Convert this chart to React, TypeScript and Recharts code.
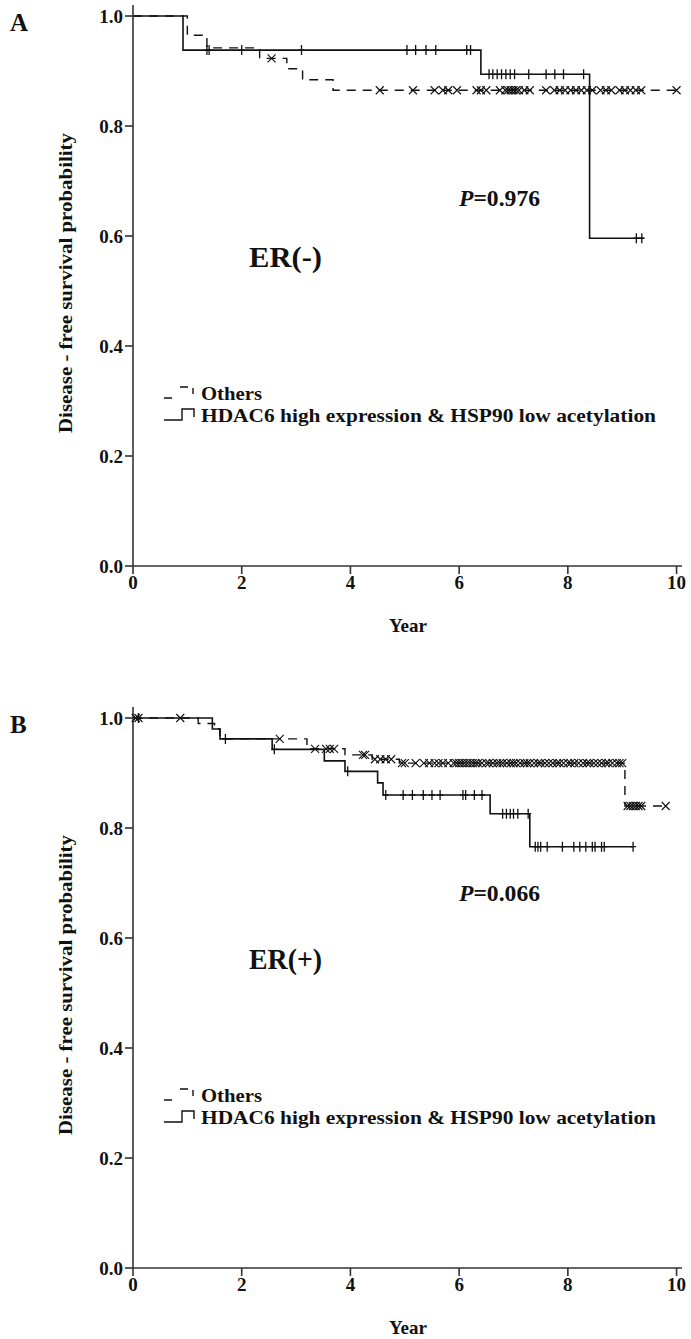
import React from 'react';
import { ComposedChart, Line, Scatter, XAxis, YAxis } from 'recharts';

const FONT = '"Liberation Serif", "Times New Roman", serif';
const INK = '#111';

// Panel A – ER(-): step curves (time in years, survival probability)
const A_OTHERS_TIME = [0, 1.0, 1.36, 2.33, 2.83, 3.12, 3.68, 10.0];
const A_OTHERS_SURV = [1.0, 0.965, 0.942, 0.923, 0.904, 0.884, 0.865, 0.865];
const A_HIGH_TIME = [0, 0.92, 6.4, 8.4, 9.4];
const A_HIGH_SURV = [1.0, 0.938, 0.894, 0.596, 0.596];

// Panel A – censored cases (times)
const A_OTHERS_CENSOR = [
  2.55, 4.54, 5.15, 5.55, 5.7, 5.8, 5.96, 6.32, 6.4, 6.5, 6.75, 6.85, 6.9, 6.95, 7.0,
  7.05, 7.1, 7.2, 7.3, 7.6, 7.75, 7.85, 7.95, 8.05, 8.15, 8.25, 8.35, 8.45, 8.6, 8.7,
  8.8, 8.95, 9.05, 9.15, 9.25, 9.35, 10.0,
];
const A_HIGH_CENSOR = [
  1.36, 1.4, 2.0, 3.1, 5.04, 5.2, 5.39, 5.57, 6.14, 6.21, 6.55, 6.62, 6.7, 6.78, 6.86,
  6.94, 7.02, 7.28, 7.6, 7.76, 7.92, 8.29, 9.26, 9.36,
];

// Panel B – ER(+)
const B_OTHERS_TIME = [0, 1.2, 1.5, 1.6, 3.2, 3.9, 4.4, 4.9, 9.05, 9.8];
const B_OTHERS_SURV = [1.0, 0.99, 0.98, 0.962, 0.944, 0.933, 0.925, 0.918, 0.84, 0.84];
const B_HIGH_TIME = [0, 1.46, 1.6, 2.56, 3.52, 3.9, 4.5, 4.6, 6.57, 7.3, 9.2];
const B_HIGH_SURV = [1.0, 0.98, 0.962, 0.943, 0.922, 0.903, 0.882, 0.86, 0.826, 0.766, 0.766];

const B_OTHERS_CENSOR = [
  0.05, 0.1, 0.87, 2.7, 3.35, 3.55, 3.62, 3.7, 4.23, 4.27, 4.45, 4.55, 4.65, 4.75,
  4.95, 5.0, 5.2, 5.35, 5.45, 5.55, 5.62, 5.7, 5.8, 5.9, 5.95, 6.0, 6.05, 6.1, 6.15,
  6.2, 6.25, 6.3, 6.35, 6.42, 6.5, 6.55, 6.62, 6.7, 6.75, 6.8, 6.88, 6.95, 7.0, 7.05,
  7.12, 7.2, 7.25, 7.3, 7.38, 7.45, 7.5, 7.58, 7.65, 7.72, 7.8, 7.85, 7.92, 8.0, 8.05,
  8.12, 8.2, 8.28, 8.35, 8.4, 8.48, 8.55, 8.62, 8.7, 8.75, 8.82, 8.9, 8.95, 9.0,
  9.1, 9.15, 9.2, 9.25, 9.3, 9.35, 9.8,
];
const B_HIGH_CENSOR = [
  0.1, 1.7, 2.6, 3.95, 4.65, 4.97, 5.14, 5.34, 5.5, 5.65, 6.07, 6.12, 6.28, 6.42,
  6.8, 6.87, 6.94, 7.0, 7.08, 7.27, 7.4, 7.45, 7.5, 7.62, 7.9, 8.11, 8.22, 8.33,
  8.45, 8.5, 8.62, 8.67, 9.2,
];

const X_TICKS = [0, 2, 4, 6, 8, 10];
const Y_TICKS = [0, 0.2, 0.4, 0.6, 0.8, 1.0];
const LEGEND_LABELS = ['Others', 'HDAC6 high expression & HSP90 low acetylation'];

const toSteps = (times: number[], surv: number[]) => times.map((t, i) => ({ t, s: surv[i] }));

// survival level of the curve at time t (censor marks sit on the curve)
const survAt = (times: number[], surv: number[], t: number) => {
  let v = surv[0];
  for (let i = 0; i < times.length; i++) if (times[i] <= t) v = surv[i];
  return v;
};
const toCensors = (marks: number[], times: number[], surv: number[]) =>
  marks.map((t) => ({ t, s: survAt(times, surv, t) }));

const PlusMark = (props: any) => {
  const { cx, cy } = props;
  return (
    <path
      d={`M${cx},${cy - 5}V${cy + 5}M${cx - 3},${cy}H${cx + 3}`}
      stroke={INK}
      strokeWidth={1.3}
      fill="none"
    />
  );
};

const CrossMark = (props: any) => {
  const { cx, cy } = props;
  const r = 4;
  return (
    <path
      d={`M${cx - r},${cy - r}L${cx + r},${cy + r}M${cx - r},${cy + r}L${cx + r},${cy - r}`}
      stroke={INK}
      strokeWidth={1.1}
      fill="none"
    />
  );
};

const YLabel = () => (
  <text
    x={66}
    y={283}
    transform="rotate(-90 66 283)"
    textAnchor="middle"
    dominantBaseline="central"
    fontFamily={FONT}
    fontWeight={700}
    fontSize={18}
    textLength={300}
    lengthAdjust="spacingAndGlyphs"
    fill={INK}
  >
    Disease - free survival probability
  </text>
);

const XLabel = () => (
  <text
    x={408}
    y={625}
    textAnchor="middle"
    dominantBaseline="central"
    fontFamily={FONT}
    fontWeight={700}
    fontSize={19}
    fill={INK}
  >
    Year
  </text>
);

const tickStyle = { fill: INK, fontSize: 19, fontWeight: 700, fontFamily: FONT };

interface PanelProps {
  top: number;
  letter: string;
  group: string;
  pValue: string;
  pY: number;
  othersTime: number[];
  othersSurv: number[];
  highTime: number[];
  highSurv: number[];
  othersCensor: number[];
  highCensor: number[];
}

const Panel: React.FC<PanelProps> = ({
  top, letter, group, pValue, pY, othersTime, othersSurv, highTime, highSurv, othersCensor, highCensor,
}) => {
  const txt = { fontFamily: FONT, fontWeight: 700, fill: INK, dominantBaseline: 'central' as const };

  return (
    <div style={{ position: 'absolute', left: 0, top, width: 691, height: 637 }}>
      <ComposedChart width={691} height={637} margin={{ top: 5, right: 9, left: 53, bottom: 0 }}>
        <XAxis
          dataKey="t"
          type="number"
          domain={[0, 10.1]}
          ticks={X_TICKS}
          height={71}
          tickSize={8}
          tickMargin={2}
          tick={tickStyle}
          axisLine={{ stroke: '#333', strokeWidth: 1.6 }}
          tickLine={{ stroke: '#333', strokeWidth: 1.6 }}
          label={<XLabel />}
        />
        <YAxis
          dataKey="s"
          type="number"
          domain={[0, 1.02]}
          ticks={Y_TICKS}
          width={80}
          tickSize={8}
          tickMargin={2}
          tick={tickStyle}
          tickFormatter={(v: number) => v.toFixed(1)}
          axisLine={{ stroke: '#333', strokeWidth: 1.6 }}
          tickLine={{ stroke: '#333', strokeWidth: 1.6 }}
          label={<YLabel />}
        />
        <Line
          data={toSteps(othersTime, othersSurv)}
          dataKey="s"
          type="stepAfter"
          stroke={INK}
          strokeWidth={1.4}
          strokeDasharray="9 7"
          dot={false}
          activeDot={false}
          isAnimationActive={false}
        />
        <Line
          data={toSteps(highTime, highSurv)}
          dataKey="s"
          type="stepAfter"
          stroke={INK}
          strokeWidth={1.6}
          dot={false}
          activeDot={false}
          isAnimationActive={false}
        />
        <Scatter
          data={toCensors(othersCensor, othersTime, othersSurv)}
          dataKey="s"
          shape={<CrossMark />}
          isAnimationActive={false}
        />
        <Scatter
          data={toCensors(highCensor, highTime, highSurv)}
          dataKey="s"
          shape={<PlusMark />}
          isAnimationActive={false}
        />
      </ComposedChart>

      {/* panel letter, group, p-value and legend */}
      <svg
        width={691}
        height={637}
        style={{ position: 'absolute', left: 0, top: 0, pointerEvents: 'none' }}
      >
        <text {...txt} x={10} y={22} fontSize={25}>{letter}</text>
        <text {...txt} x={249} y={256} fontSize={30} textLength={73} lengthAdjust="spacingAndGlyphs">
          {group}
        </text>
        <text {...txt} x={459} y={pY} fontSize={23} textLength={81} lengthAdjust="spacingAndGlyphs">
          <tspan fontStyle="italic">P</tspan>={pValue}
        </text>

        <path d="M164,398H172M180,387H188M193,388V394" stroke={INK} strokeWidth={1.4} fill="none" />
        <text {...txt} x={201} y={393} fontSize={19} textLength={61} lengthAdjust="spacingAndGlyphs">
          {LEGEND_LABELS[0]}
        </text>
        <path d="M164,420H182V409H194V417" stroke={INK} strokeWidth={1.4} fill="none" />
        <text {...txt} x={201} y={415} fontSize={19} textLength={455} lengthAdjust="spacingAndGlyphs">
          {LEGEND_LABELS[1]}
        </text>
      </svg>
    </div>
  );
};

export default function App() {
  return (
    <div style={{ position: 'absolute', left: 0, top: 0, width: 691, height: 1339, background: '#fff' }}>
      <Panel
        top={0}
        letter="A"
        group="ER(-)"
        pValue="0.976"
        pY={198}
        othersTime={A_OTHERS_TIME}
        othersSurv={A_OTHERS_SURV}
        highTime={A_HIGH_TIME}
        highSurv={A_HIGH_SURV}
        othersCensor={A_OTHERS_CENSOR}
        highCensor={A_HIGH_CENSOR}
      />
      <Panel
        top={702}
        letter="B"
        group="ER(+)"
        pValue="0.066"
        pY={191}
        othersTime={B_OTHERS_TIME}
        othersSurv={B_OTHERS_SURV}
        highTime={B_HIGH_TIME}
        highSurv={B_HIGH_SURV}
        othersCensor={B_OTHERS_CENSOR}
        highCensor={B_HIGH_CENSOR}
      />
    </div>
  );
}
